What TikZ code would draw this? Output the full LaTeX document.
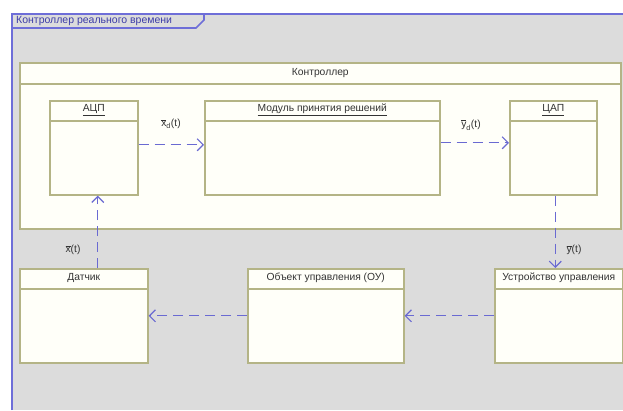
\documentclass[tikz,border=0pt]{standalone}
\usepackage{amsmath}
\usepackage{fontspec}
\setmainfont{Liberation Sans}
\usepackage{tikz}
\usetikzlibrary{arrows.meta}
\usepackage{xcolor}
\definecolor{framebg}{HTML}{DCDCDC}
\definecolor{frameblue}{HTML}{6E6ED8}
\definecolor{tabtext}{HTML}{3C3CA8}
\definecolor{boxedge}{HTML}{B4B486}
\definecolor{boxfill}{HTML}{FFFFF9}
\definecolor{flowblue}{HTML}{6A6AD2}

\tikzset{
  box/.style={draw=boxedge, fill=boxfill, line width=1.6pt, anchor=north west, inner sep=0pt},
  headline/.style={draw=boxedge, line width=1.4pt},
  title/.style={font=\fontsize{10.3}{12}\selectfont, text=black!80, inner sep=1pt},
  flow/.style={draw=flowblue, line width=1.2pt, dash pattern=on 10pt off 6pt, -{Straight Barb[length=6pt,width=12pt,line width=1.2pt]}},
  lbl/.style={font=\fontsize{10.3}{12}\selectfont, text=black!80, inner sep=1pt}
}

\begin{document}
\begin{tikzpicture}[x=1pt,y=-1pt]

\useasboundingbox (0,0) rectangle (623,410);

\fill[white] (0,0) rectangle (623,410);

\fill[framebg] (12,14) rectangle (623,410);

\draw[frameblue, line width=2pt] (12,410) -- (12,14) -- (623,14);

\draw[frameblue, line width=1.6pt] (12,28) -- (196,28) -- (204,20) -- (204,14);

\node[anchor=west, text=tabtext, font=\fontsize{10.5}{12}\selectfont, inner sep=0pt] (tab) at (16,21) {Контроллер реального времени};

\node[box, minimum width=601, minimum height=166] (ctrl) at (19,62) {};
\draw[headline] ([yshift=-22pt]ctrl.north west) -- ([yshift=-22pt]ctrl.north east);
\node[title] (ctrltitle) at ([yshift=-11pt]ctrl.north) {Контроллер};

\node[box, minimum width=88, minimum height=94] (adc) at (49,100) {};
\draw[headline] ([yshift=-21pt]adc.north west) -- ([yshift=-21pt]adc.north east);
\node[title] (adctitle) at ([yshift=-10pt]adc.north) {\underline{АЦП}};

\node[box, minimum width=235, minimum height=94] (dm) at (204,100) {};
\draw[headline] ([yshift=-21pt]dm.north west) -- ([yshift=-21pt]dm.north east);
\node[title] (dmtitle) at ([yshift=-10pt]dm.north) {\underline{Модуль принятия решений}};

\node[box, minimum width=87, minimum height=94] (dac) at (509,100) {};
\draw[headline] ([yshift=-21pt]dac.north west) -- ([yshift=-21pt]dac.north east);
\node[title] (dactitle) at ([yshift=-10pt]dac.north) {\underline{ЦАП}};

\node[box, minimum width=128, minimum height=94] (sensor) at (19,268) {};
\draw[headline] ([yshift=-21pt]sensor.north west) -- ([yshift=-21pt]sensor.north east);
\node[title] (sensortitle) at ([yshift=-10pt]sensor.north) {Датчик};

\node[box, minimum width=156, minimum height=94] (plant) at (247,268) {};
\draw[headline] ([yshift=-21pt]plant.north west) -- ([yshift=-21pt]plant.north east);
\node[title] (planttitle) at ([yshift=-10pt]plant.north) {Объект управления (ОУ)};

\node[box, minimum width=128, minimum height=94] (dev) at (494,268) {};
\draw[headline] ([yshift=-21pt]dev.north west) -- ([yshift=-21pt]dev.north east);
\node[title] (devtitle) at ([yshift=-10pt]dev.north) {Устройство управления};

\draw[flow] ([yshift=3pt]adc.east) -- ([yshift=3pt]dm.west);
\node[lbl] (xd) at (171,124) {$\overline{\text{x}}_{\text{d}}$(t)};

\draw[flow] ([yshift=5pt]dm.east) -- ([yshift=5pt]dac.west);
\node[lbl] (yd) at (471,125) {$\overline{\text{y}}_{\text{d}}$(t)};

\draw[flow] ([xshift=2pt]dac.south) -- ([xshift=2pt]dac.south |- dev.north);
\node[lbl] (y) at (574,250) {$\overline{\text{y}}$(t)};

\draw[flow] (dev.west) -- (plant.east);

\draw[flow] (plant.west) -- (sensor.east);

\draw[flow] ([xshift=4pt]adc.south |- sensor.north) -- ([xshift=4pt]adc.south);
\node[lbl] (x) at (73,250) {$\overline{\text{x}}$(t)};

\end{tikzpicture}
\end{document}
